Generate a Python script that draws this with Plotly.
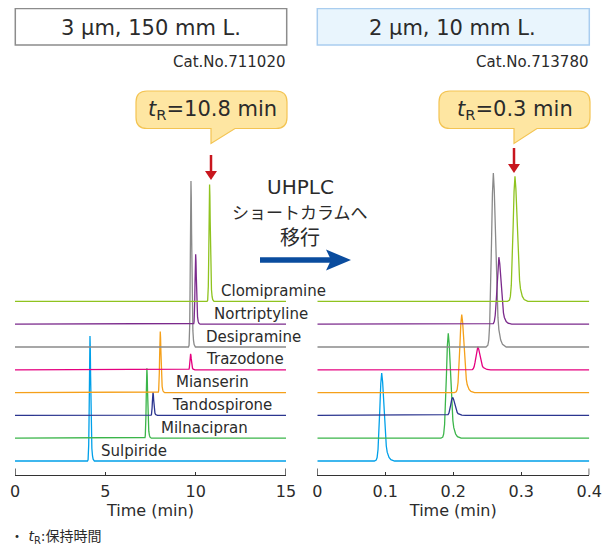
import plotly.graph_objects as go

# ---------------- data ----------------
COMPOUNDS = ["Sulpiride", "Milnacipran", "Tandospirone", "Mianserin",
             "Trazodone", "Desipramine", "Nortriptyline", "Clomipramine"]
COLORS = ["#00a0e9", "#3bb54a", "#2b358f", "#f5a01a",
          "#e5007f", "#8a8a8a", "#7b2a8c", "#8fc31f"]

# 3 um, 150 mm column (HPLC)
HPLC_TR = [4.15, 7.30, 7.64, 8.04, 9.72, 9.74, 10.00, 10.77]
HPLC_HEIGHT = [125, 70, 23, 61, 16, 166, 70, 117]
HPLC_SIGMA = 0.035

# 2 um, 10 mm column (UHPLC)
UHPLC_TR = [0.0947, 0.1926, 0.199, 0.2124, 0.236, 0.2589, 0.267, 0.2907]
UHPLC_HEIGHT = [88, 105, 18, 78, 23, 174, 67, 125]
UHPLC_SIGMA = 0.0027

# tailing peak profile (offset in widths, relative height)
PEAK_OFFSET = [-4, -3, -2.5, -2, -1.5, -1, -0.5, 0, 0.5, 1, 1.5, 2, 2.5, 3, 4, 5, 7]
PEAK_REL = [0, 0.01, 0.04, 0.13, 0.32, 0.6, 0.88, 1, 0.9, 0.68, 0.45, 0.28, 0.17, 0.1, 0.04, 0.015, 0]

HPLC_TICKS = [0, 5, 10, 15]
HPLC_TICK_TEXT = ["0", "5", "10", "15"]
UHPLC_TICKS = [0, 0.1, 0.2, 0.3, 0.4]
UHPLC_TICK_TEXT = ["0", "0.1", "0.2", "0.3", "0.4"]

# ---------------- layout constants ----------------
OX, OY = 8, 8          # page body margin of the browser
W, H = 614 - OX, 547 - OY
STEP = 22.8            # vertical stacking offset between chromatograms
Y_RANGE = [-14, 291]
LABEL_X = [4.63, 7.95, 8.60, 8.80, 10.46, 10.46, 10.89, 11.29]
LABEL_DY = 10.5
FONT = "DejaVu Sans, Noto Sans CJK JP, sans-serif"
TXT = "#2b2b2b"


def px(x, y):
    """window pixel -> paper coordinate"""
    return (x - OX) / W, 1 - (y - OY) / H


def trace_xy(tr, h, sigma, xmax, base):
    xs = [0.0] + [tr + o * sigma for o in PEAK_OFFSET] + [xmax]
    ys = [base] + [base + h * r for r in PEAK_REL] + [base]
    return xs, ys


fig = go.Figure()
for i, name in enumerate(COMPOUNDS):
    base = i * STEP
    xs, ys = trace_xy(HPLC_TR[i], HPLC_HEIGHT[i], HPLC_SIGMA, HPLC_TICKS[-1], base)
    fig.add_trace(go.Scatter(x=xs, y=ys, mode="lines", name=name,
                             line=dict(color=COLORS[i], width=1.3),
                             xaxis="x", yaxis="y", showlegend=False))
    xs, ys = trace_xy(UHPLC_TR[i], UHPLC_HEIGHT[i], UHPLC_SIGMA, UHPLC_TICKS[-1], base)
    fig.add_trace(go.Scatter(x=xs, y=ys, mode="lines", name=name,
                             line=dict(color=COLORS[i], width=1.3),
                             xaxis="x2", yaxis="y2", showlegend=False))

annotations = []
for i, name in enumerate(COMPOUNDS):
    annotations.append(dict(x=LABEL_X[i], y=i * STEP + LABEL_DY, xref="x", yref="y",
                            text=name, showarrow=False, xanchor="left", yanchor="middle",
                            font=dict(family=FONT, size=15, color=TXT)))


def ann(x, y, text, size, xanchor="center", color=TXT):
    X, Y = px(x, y)
    annotations.append(dict(x=X, y=Y, xref="paper", yref="paper", text=text,
                            showarrow=False, xanchor=xanchor, yanchor="middle",
                            font=dict(family=FONT, size=size, color=color)))


ann(151, 27.5, "3 µm, 150 mm L.", 21)
ann(453, 27.5, "2 µm, 10 mm L.", 21)
ann(287, 62, "Cat.No.711020", 15, xanchor="right")
ann(590, 62, "Cat.No.713780", 15, xanchor="right")
ann(212, 110, "<i>t</i><sub>R</sub>=10.8 min", 21)
ann(515, 110, "<i>t</i><sub>R</sub>=0.3 min", 21)
ann(300, 187, "UHPLC", 20)
ann(300, 213, "ショートカラムへ", 17)
ann(300, 238.5, "移行", 20)
ann(8, 537, "・ <i>t</i><sub>R</sub>:保持時間", 14, xanchor="left")

shapes = []


def path(points, close=True):
    s = ""
    for k, p in enumerate(points):
        if p[0] == "Q":
            (cx, cy), (ex, ey) = px(*p[1]), px(*p[2])
            s += f" Q{cx:.5f},{cy:.5f} {ex:.5f},{ey:.5f}"
        else:
            X, Y = px(*p)
            s += (" M" if k == 0 else " L") + f"{X:.5f},{Y:.5f}"
    return s + (" Z" if close else "")


def rect(x0, y0, x1, y1, fill, line, lw):
    X0, Y0 = px(x0, y0)
    X1, Y1 = px(x1, y1)
    shapes.append(dict(type="rect", xref="paper", yref="paper", x0=X0, y0=Y1, x1=X1, y1=Y0,
                       fillcolor=fill, line=dict(color=line, width=lw), layer="below"))


rect(15.3, 8.5, 286.7, 45, "white", "#8c8c8c", 1.5)
rect(317.3, 8.5, 589.3, 45, "#e9f5fd", "#a9cdef", 1.5)


def callout(x0, y0, x1, y1, pl, pr, tipy, r=11):
    pts = [(x0 + r, y0), (x1 - r, y0), ("Q", (x1, y0), (x1, y0 + r)),
           (x1, y1 - r), ("Q", (x1, y1), (x1 - r, y1)),
           (pr, y1), (pl, tipy), (pl, y1),
           (x0 + r, y1), ("Q", (x0, y1), (x0, y1 - r)),
           (x0, y0 + r), ("Q", (x0, y0), (x0 + r, y0))]
    shapes.append(dict(type="path", xref="paper", yref="paper", path=path(pts),
                       fillcolor="#fee6a2", line=dict(color="#f3c453", width=1.2), layer="below"))


callout(136, 91, 287, 128.5, 211, 235, 143.5)
callout(439, 91, 590, 128.5, 514, 537, 143.5)


def red_arrow(x, y0, y1):
    X0, Y0 = px(x, y0)
    X1, Y1 = px(x, y1 - 6)
    shapes.append(dict(type="line", xref="paper", yref="paper", x0=X0, y0=Y0, x1=X1, y1=Y1,
                       line=dict(color="#c8161e", width=2.5)))
    shapes.append(dict(type="path", xref="paper", yref="paper",
                       path=path([(x - 6, y1 - 9), (x + 6, y1 - 9), (x, y1)]),
                       fillcolor="#c8161e", line=dict(width=0)))


red_arrow(211, 155, 180)
red_arrow(514, 148, 173)

# blue shift arrow
X0, Y0 = px(260, 260)
X1, Y1 = px(333, 260)
shapes.append(dict(type="line", xref="paper", yref="paper", x0=X0, y0=Y0, x1=X1, y1=Y1,
                   line=dict(color="#0a4c9e", width=5.5)))
shapes.append(dict(type="path", xref="paper", yref="paper",
                   path=path([(326, 249.5), (351, 260), (326, 270.5), (331, 260)]),
                   fillcolor="#0a4c9e", line=dict(width=0)))


# long end ticks of the time axes
def end_tick(xref, xv):
    shapes.append(dict(type="line", xref=xref, yref="paper", x0=xv, x1=xv,
                       y0=px(0, 475)[1], y1=px(0, 468.5)[1],
                       line=dict(color="#333333", width=1.4)))


end_tick("x", HPLC_TICKS[0]); end_tick("x", HPLC_TICKS[-1])
end_tick("x2", UHPLC_TICKS[0]); end_tick("x2", UHPLC_TICKS[-1])

ydom = [px(0, 475)[1], px(0, 170)[1]]
xcommon = dict(showline=True, linecolor="#333333", linewidth=1.4, ticks="inside",
               ticklen=3, tickwidth=1.3, tickcolor="#333333", showgrid=False,
               zeroline=False, automargin=False, fixedrange=True, ticklabelstandoff=2,
               tickfont=dict(family=FONT, size=16, color=TXT),
               title=dict(text="Time (min)", font=dict(family=FONT, size=16, color=TXT),
                          standoff=0))
ycommon = dict(visible=False, range=Y_RANGE, domain=ydom, fixedrange=True)

fig.update_layout(
    width=W, height=H, margin=dict(l=0, r=0, t=0, b=0),
    paper_bgcolor="white", plot_bgcolor="white",
    xaxis=dict(domain=[px(15, 0)[0], px(286, 0)[0]], range=[HPLC_TICKS[0], HPLC_TICKS[-1]],
               tickvals=HPLC_TICKS, ticktext=HPLC_TICK_TEXT, anchor="y", **xcommon),
    xaxis2=dict(domain=[px(317.3, 0)[0], px(589.3, 0)[0]], range=[UHPLC_TICKS[0], UHPLC_TICKS[-1]],
                tickvals=UHPLC_TICKS, ticktext=UHPLC_TICK_TEXT, anchor="y2", **xcommon),
    yaxis=dict(anchor="x", **ycommon),
    yaxis2=dict(anchor="x2", **ycommon),
    annotations=annotations, shapes=shapes,
)

fig.write_html("out.html")
